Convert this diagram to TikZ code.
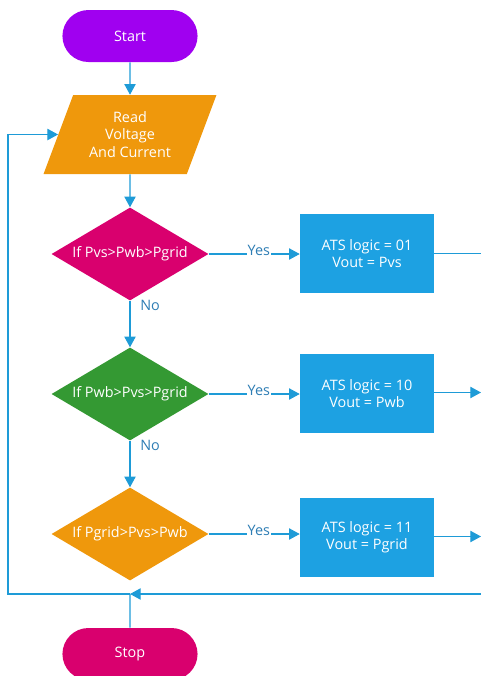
\documentclass[tikz,border=0pt]{standalone}
\usepackage{fontspec}
\setmainfont{Open Sans}
\usetikzlibrary{shapes,arrows.meta,positioning,calc}

\definecolor{startpurple}{RGB}{160,0,240}
\definecolor{readorange}{RGB}{239,152,12}
\definecolor{stopmagenta}{RGB}{217,0,110}
\definecolor{checkgreen}{RGB}{52,153,51}
\definecolor{atsblue}{RGB}{29,161,226}
\definecolor{linkblue}{RGB}{30,155,215}
\definecolor{labelblue}{RGB}{46,125,180}

\begin{document}
\begin{tikzpicture}[x=0.75pt, y=-0.75pt, font=\fontsize{10.8}{13}\selectfont,
    terminal/.style={rounded rectangle, text=white, minimum width=108pt, minimum height=39pt},
    iobox/.style={trapezium, trapezium left angle=65, trapezium right angle=115, trapezium stretches=true,
        fill=readorange, text=white, align=center, minimum width=129.75pt, minimum height=59.25pt, inner sep=0pt},
    check/.style={diamond, shape aspect=1.69, text=white, minimum width=117.75pt, minimum height=69.75pt, inner sep=0pt},
    logicbox/.style={rectangle, fill=atsblue, text=white, align=center, minimum width=100.5pt, minimum height=59.25pt},
    link/.style={draw=linkblue, line width=0.8pt},
    arrowlink/.style={link, -{Triangle[length=8pt,width=8.5pt]}},
    lbl/.style={text=labelblue, fill=white, inner sep=0.5pt}]
        \useasboundingbox (0,0) rectangle (481,676);

        % Start and Read
        \node[terminal, fill=startpurple] (start) at (130,36) {Start};
        \node[iobox] (read) at (130,134.5) {Read\\Voltage\\And Current};

        % Checks
        \node[check, fill=stopmagenta] (chk1) at (130,254) {If Pvs>Pwb>Pgrid};
        \node[check, fill=checkgreen] (chk2) at (130,394) {If Pwb>Pvs>Pgrid};
        \node[check, fill=readorange] (chk3) at (130,534) {If Pgrid>Pvs>Pwb};

        % ATS logic
        \node[logicbox] (ats1) at (367,253.5) {ATS logic = 01\\Vout = Pvs};
        \node[logicbox] (ats2) at (367,393.5) {ATS logic = 10\\Vout = Pwb};
        \node[logicbox] (ats3) at (367,537) {ATS logic = 11\\Vout = Pgrid};

        % Stop
        \node[terminal, fill=stopmagenta] (stop) at (130,654) {Stop};

        % loop points
        \coordinate (out1) at (481,253.5);
        \coordinate (out2) at (481,392.5);
        \coordinate (out3) at (481,536.5);
        \coordinate (loopR) at (481,594);
        \coordinate (loopJ) at (130,594);
        \coordinate (loopL) at (8,594);

        \draw[arrowlink] (start) -- (read);
        \draw[arrowlink] (read) -- (chk1);
        \draw[arrowlink] (chk1) -- node[pos=0.1, right=4pt, text=labelblue] {No} (chk2);
        \draw[arrowlink] (chk2) -- node[pos=0.1, right=4pt, text=labelblue] {No} (chk3);

        \draw[arrowlink] (chk1.east) -- node[lbl, pos=0.55, yshift=2.5pt] {Yes} (ats1.west |- chk1.east);
        \draw[arrowlink] (chk2.east) -- node[lbl, pos=0.55, yshift=2.5pt] {Yes} (ats2.west |- chk2.east);
        \draw[arrowlink] (chk3.east) -- node[lbl, pos=0.55, yshift=2.5pt] {Yes} (ats3.west |- chk3.east);

        \draw[link] (ats1.east |- out1) -- (out1);
        \draw[arrowlink] (ats2.east |- out2) -- (out2);
        \draw[arrowlink] (ats3.east |- out3) -- (out3);

        % back to Read
        \draw[arrowlink] (loopR) -- (loopJ);
        \draw[arrowlink] (loopJ) -- (loopL) |- (read);
        \draw[link] (stop) -- (loopJ);
    \end{tikzpicture}
\end{document}
